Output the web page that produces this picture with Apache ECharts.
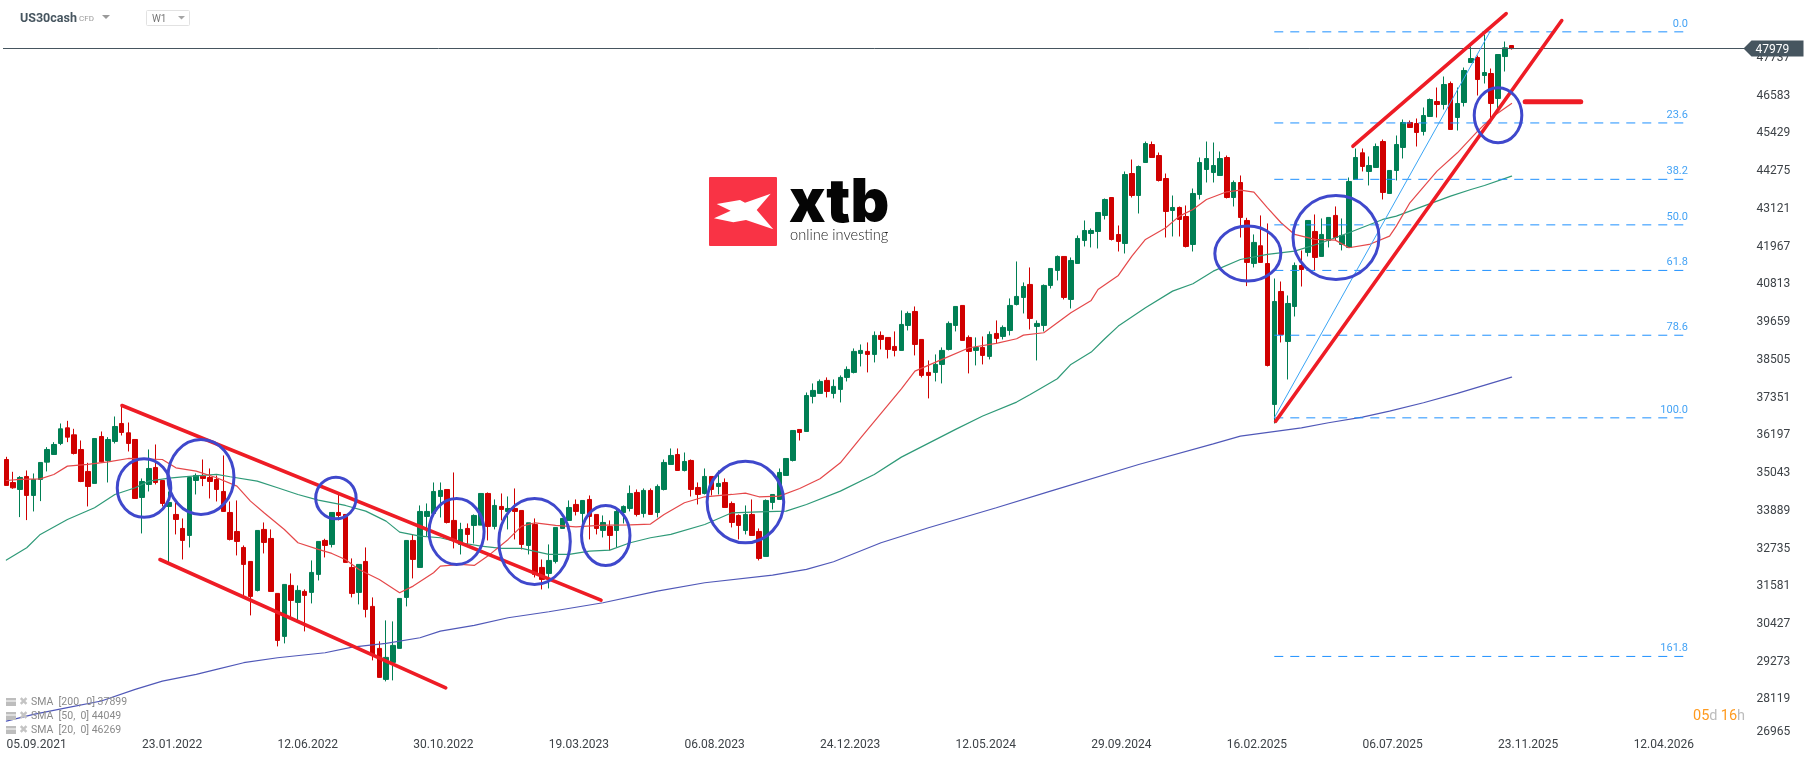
<!DOCTYPE html>
<html>
<head>
<meta charset="utf-8">
<title>US30cash W1</title>
<style>
  html, body { margin: 0; padding: 0; background: #fff; }
  #chart { width: 1815px; height: 761px; }
</style>
<script src="https://cdn.jsdelivr.net/npm/echarts@6/dist/echarts.min.js"></script>
</head>
<body>
<div id="chart"></div>
<script>
// weekly candles, one row per week: open, close, low, high
const candles = [
  [35413,34619,34619,35495],[34710,34547,34517,35036],[34496,34863,33651,34904],[34894,34313,33559,35077],
  [34313,34802,33824,34985],[34802,35322,34140,35322],[35332,35719,35047,35790],[35566,35872,35566,35943],
  [35903,36351,35852,36514],[36381,36096,35943,36595],[36167,35597,35566,36351],[35719,34741,34720,35994],
  [35047,34588,33977,35311],[34680,36055,34680,36055],[36116,35342,35311,36269],[35383,36025,34710,36096],
  [35964,36422,35903,36728],[36514,36239,36147,37064],[36229,35903,35658,36544],[36025,34221,34221,36025],
  [34252,34741,33151,34833],[34649,35138,34435,35719],[35169,34710,34649,35872],[34771,34068,33977,34771],
  [33977,34099,32255,34435],[33732,33579,33121,34089],[33304,32937,32356,33610],[33090,34863,32723,34863],
  [34771,34924,34343,34985],[34904,34833,34598,35413],[34863,34741,34221,35138],[34802,34496,34129,34924],
  [34435,33824,33824,35536],[33793,32968,32937,34129],[33212,32907,32479,34160],[32723,32204,31235,32784],
  [32295,31225,30645,32295],[31409,33243,31378,33243],[33274,32876,32540,33487],[32998,31378,31378,33274],
  [31317,29880,29697,31317],[30003,31592,29789,31592],[31562,31103,30583,31928],[31042,31409,30492,31562],
  [31378,31256,30155,31439],[31348,31959,31011,32326],[31898,32907,31714,32907],[32937,32784,32417,32988],
  [32815,33793,32723,33793],[33793,33701,33549,34343],[33732,32265,32265,33732],[32112,31317,31195,32387],
  [31348,32204,30981,32204],[32295,30828,30583,32723],[30920,29452,29269,31195],[29636,28749,28749,29850],
  [28688,29361,28627,30492],[29208,29727,28657,30461],[29636,31164,29636,31164],[31195,32937,30920,32937],
  [32937,32356,31776,33121],[32112,33824,32112,34007],[33671,33824,33070,34068],[33763,34435,33763,34710],
  [34282,34466,33640,34710],[34496,33487,33457,34496],[33549,32937,32693,35016],[32815,33274,32509,33477],
  [33304,33121,32815,33457],[33396,33701,32846,33732],[33406,34374,33406,34374],[34374,33365,32937,34405],
  [33365,34007,33274,34191],[33977,33885,33549,34374],[33824,33915,33274,34282],[33915,33824,32968,34527],
  [33854,32815,32662,33854],[32784,33477,32509,33477],[33426,31898,31806,33610],[32112,31745,31439,32356],
  [31928,32326,31470,32815],[32295,33335,32234,33335],[33304,33610,33304,33610],[33549,33946,33549,34160],
  [34038,33824,33701,34191],[33763,34160,33426,34160],[34191,33671,32968,34313],[33732,33304,33121,33732],
  [33243,33487,33029,33701],[33365,33090,32632,33549],[33243,33824,32723,33885],[33793,33977,33457,34007],
  [33915,34374,33824,34619],[34405,33732,33671,34496],[33763,34466,33640,34527],[34466,33732,33732,34527],
  [33793,34588,33640,34649],[34496,35322,34466,35413],[35261,35536,35261,35750],[35566,35077,35077,35750],
  [35077,35352,35047,35627],[35383,34496,34282,35413],[34557,34343,34038,34710],[34374,34894,34343,35138],
  [34894,34496,34313,34894],[34588,34680,34343,35077],[34710,33946,33946,34833],[34068,33487,33335,34129],
  [33701,33396,32968,33732],[33243,33732,33121,34007],[33732,33090,33090,34191],[33212,32387,32326,33304],
  [32448,34160,32448,34191],[34099,34343,33885,34343],[34191,35016,34191,35138],[34924,35444,34924,35444],
  [35383,36300,35352,36300],[36331,36239,35994,36331],[36269,37370,36269,37462],[37342,37525,37128,37739],
  [37433,37800,37433,37861],[37831,37494,37311,37923],[37433,37648,37281,37861],[37556,37923,37158,37984],
  [37923,38167,37800,38259],[38076,38718,38045,38809],[38656,38748,38259,38931],[38718,38626,38076,38993],
  [38626,39207,38381,39329],[39207,39084,38779,39329],[39145,38779,38503,39145],[38870,38748,38565,39329],
  [38748,39543,38748,39971],[39512,39879,39359,39940],[39940,38931,38595,40093],[39084,37984,37923,39084],
  [38076,37984,37281,38442],[38076,38320,37800,38626],[38320,38748,37739,38840],[38779,39574,38748,39635],
  [39512,40093,39329,40093],[40124,39054,39054,40124],[39145,38718,38045,39207],[38748,38840,38290,39145],
  [38840,38595,38320,39176],[38565,39237,38473,39329],[39268,39115,38962,39665],[39176,39451,39084,39512],
  [39359,40124,39207,40338],[40154,40399,40124,41469],[40368,40704,39879,40827],[40766,39726,39390,41285],
  [39482,39574,38442,39665],[39512,40735,39329,40766],[40735,41255,40643,41255],[41194,41622,40888,41652],
  [41622,40368,40307,41622],[40307,41499,40032,41591],[41408,42172,41408,42263],[42111,42416,41927,42722],
  [42325,42416,41897,42478],[42386,42967,41866,42967],[42875,43364,42753,43395],[43425,42141,42111,43425],
  [42294,42080,41774,42569],[42019,44128,41713,44220],[44159,43486,43425,44587],[43486,44373,42936,44403],
  [44495,45076,44495,45137],[45045,44648,44648,45137],[44709,43945,43914,44801],[44006,42997,42202,44159],
  [43028,43120,42233,43486],[43120,42753,42233,43150],[42844,41927,41897,43181],[41988,43548,41774,43700],
  [43517,44495,43364,44648],[44281,44617,43884,45137],[44189,44403,43884,45107],[44098,44617,44098,44831],
  [44648,43425,43395,44709],[43425,43884,43150,43945],[43884,42814,42202,44098],[42723,41439,40716,42805],
  [41409,42051,41286,42295],[41949,41439,41439,42876],[41406,38288,38258,42631],[37096,40245,36515,40948],
  [40551,39236,38992,40856],[39022,40184,37860,40428],[40092,41346,39786,41437],[41346,41223,40703,41804],
  [41745,42723,41623,42723],[42387,41592,41195,42906],[41623,42295,41623,42784],[42112,42815,41898,42815],
  [42876,42203,42112,43151],[41989,42265,41806,42784],[41898,43915,41898,44037],[43976,44649,43976,44924],
  [44792,44374,44221,44924],[44221,44404,43793,44680],[44343,44985,44343,45077],[45138,43579,43365,45199],
  [43548,44252,43548,44252],[44252,45046,43946,45321],[44955,45719,44618,45811],[45719,45566,45566,45780],
  [45688,45413,44985,45841],[45444,45933,45321,46178],[45902,46422,45902,46453],[46361,46269,45872,46789],
  [46269,46881,46116,47125],[46911,45505,45505,46972],[45872,46300,45474,46789],[46330,47309,46208,47400],
  [47553,47675,47553,48042],[47706,47033,46544,47767],[47156,47247,46911,48409],[47217,46300,45811,47370],
  [46453,47798,46147,47798],[47736,48001,47278,48195],[48073,47979,47950,48073]
]

const startDate = '2021-09-05'
const weekCount = 257
const lastPrice = 47979
const yTicks = [26965, 28119, 29273, 30427, 31581, 32735, 33889, 35043, 36197, 37351, 38505, 39659, 40813, 41967, 43121, 44275, 45429, 46583, 47737]

const sma20Weeks = [0,2,5,7,9,12,15,18,23,25,28,31,34,36,38,41,43,46,48,50,52,55,58,60,63,64,67,69,71,74,76,78,81,84,88,92,95,97,100,103,107,109,111,114,117,120,123,126,132,134,138,142,146,149,150,153,155,157,160,161,164,166,168,171,173,175,177,180,182,184,186,188,190,193,196,198,201,204,205,207,211,214,217,219,222]
const sma20Values = [34771,34802,34822,34955,35210,35261,35342,35444,35413,35159,35057,34853,34598,34140,33783,33273,32866,32662,32540,32356,32051,31745,31337,31541,31949,32153,32204,32173,32458,32968,33375,33477,33396,33355,33406,33416,33437,33732,34089,34272,34343,34384,34272,34293,34527,34822,35311,36076,37574,38116,38473,38830,38962,39105,39217,39288,39594,39900,40277,40613,41041,41632,42141,42498,42855,43058,43364,43599,43649,43589,43110,42652,42295,42142,42122,41888,41989,42244,42550,43263,44231,44792,45454,45862,46300]

const sma50Weeks = [0,3,5,9,13,16,19,21,24,26,31,33,37,40,43,46,50,53,56,58,61,64,67,70,73,76,80,83,86,89,92,95,98,103,107,111,115,118,123,128,132,140,144,149,151,155,157,160,162,164,168,172,175,178,182,186,190,194,198,203,205,209,213,216,218,222]
const sma50Values = [32336,32713,33121,33579,33936,34343,34547,34751,34843,34884,34955,34884,34751,34547,34343,34170,34007,33834,33528,33192,33070,33019,32866,32764,32693,32693,32509,32509,32611,32642,32866,33019,33121,33426,33783,33813,33834,34038,34445,34955,35485,36333,36741,37168,37403,37882,38320,38697,39105,39492,40052,40562,40786,41173,41530,41684,41786,42040,42346,42754,42855,43161,43467,43671,43793,44078]

const sma200Weeks = [0,4,9,14,19,23,28,31,35,40,47,51,56,61,64,69,74,80,88,96,103,113,118,122,129,136,146,154,167,178,182,191,195,200,204,209,214,222]
const sma200Values = [27414,27618,27822,28026,28382,28637,28841,28994,29198,29350,29503,29676,29789,29962,30166,30339,30573,30757,31032,31388,31643,31877,32051,32285,32866,33324,33936,34445,35260,35892,36127,36381,36536,36709,36892,37147,37433,37932]

const fibLevels = ['0.0', '23.6', '38.2', '50.0', '61.8', '78.6', '100.0', '161.8']
const fibPrices = [48491, 45705, 43981, 42588, 41195, 39213, 36686, 29390]
const fibFromWeek = 187
const fibToWeek = 248.3

// red channels and the short red marker, [week, price] pairs
const trendLines = [
  [[17.05, 37064], [87.7, 31110]],
  [[22.65, 32354], [64.8, 28431]],
  [[198.6, 44993], [221.2, 49051]],
  [[187.2, 36583], [229.4, 48837]]
]
const markerLine = [[224, 46351], [232.2, 46351]]
const fibTrend = [[187, 36686], [218.8, 48491]]

// blue circles: week, price, half width in weeks, half height in price
const circleWeeks = [20.3, 28.7, 48.6, 66.4, 77.9, 88.4, 109, 183.1, 196.1, 220]
const circlePrices = [34541, 34877, 34235, 33210, 32905, 33088, 34113, 41712, 42201, 45938]
const circleHalfWeeks = [3.95, 4.87, 2.98, 4.06, 5.27, 3.57, 5.65, 4.87, 6.34, 3.51]
const circleHalfPrices = [893, 1147, 636, 1009, 1315, 917, 1248, 841, 1284, 841]

const smaLegend = ['SMA  [200,  0] 37899', 'SMA  [50,  0] 44049', 'SMA  [20,  0] 46269']

const pad = (n) => String(n).padStart(2, '0')
const weekLabels = Array.from({ length: weekCount }, (_, i) => {
  const d = new Date(startDate + 'T00:00:00Z')
  d.setUTCDate(d.getUTCDate() + i * 7)
  return `${pad(d.getUTCDate())}.${pad(d.getUTCMonth() + 1)}.${d.getUTCFullYear()}`
})

const zip = (xs, ys) => xs.map((x, i) => [x, ys[i]])

const overlayLine = (data, color, width, z) => ({
  type: 'line',
  xAxisIndex: 1,
  data,
  symbol: 'none',
  silent: true,
  clip: false,
  z,
  lineStyle: { color, width, cap: 'round' }
})

const renderFib = (params, api) => {
  const from = api.coord([fibFromWeek, api.value(0)])
  const to = api.coord([fibToWeek, api.value(0)])
  return {
    type: 'group',
    children: [
      {
        type: 'line',
        shape: { x1: from[0], y1: from[1], x2: to[0], y2: to[1] },
        style: { stroke: '#1e90ff', lineWidth: 1, lineDash: [9, 7] }
      },
      {
        type: 'text',
        x: to[0] - 2,
        y: to[1] - 8,
        style: {
          text: fibLevels[params.dataIndex],
          fill: '#45a3f5',
          font: '11px Roboto',
          align: 'right',
          verticalAlign: 'middle'
        }
      }
    ]
  }
}

const renderCircle = (params, api) => {
  const center = api.coord([api.value(0), api.value(1)])
  const size = api.size([api.value(2), api.value(3)])
  return {
    type: 'ellipse',
    shape: { cx: center[0], cy: center[1], rx: size[0], ry: size[1] },
    style: { fill: 'none', stroke: '#3f48cc', lineWidth: 3 }
  }
}

const renderPriceTag = (params, api) => {
  const p = api.coord([weekCount - 0.5, api.value(0)])
  return {
    type: 'group',
    children: [
      {
        type: 'polygon',
        shape: { points: [[p[0] - 2, p[1]], [p[0] + 6, p[1] - 8], [p[0] + 58, p[1] - 8], [p[0] + 58, p[1] + 8], [p[0] + 6, p[1] + 8]] },
        style: { fill: '#46555f' }
      },
      {
        type: 'text',
        x: p[0] + 10,
        y: p[1] + 1,
        style: { text: String(lastPrice), fill: '#fff', font: '12px Roboto', verticalAlign: 'middle' }
      }
    ]
  }
}

const legendGraphics = smaLegend.flatMap((text, i) => {
  const y = 702 + i * 14
  return [
    { type: 'rect', x: 6, y: y - 4, shape: { width: 10, height: 8 }, style: { fill: '#bdbdbd' }, z: 20 },
    { type: 'line', shape: { x1: 6, y1: y - 1, x2: 16, y2: y - 1 }, style: { stroke: '#fff', lineWidth: 1 }, z: 21 },
    { type: 'text', x: 19, y, style: { text: '✖', fill: '#c4c4c4', font: '11px "DejaVu Sans"', verticalAlign: 'middle' }, z: 20 },
    { type: 'text', x: 31, y, style: { text, fill: '#8a8a8a', font: '10.5px Roboto', verticalAlign: 'middle' }, z: 20 }
  ]
})

const chart = echarts.init(document.getElementById('chart'), null, { renderer: 'canvas' })

chart.setOption({
  animation: false,
  backgroundColor: '#fff',
  textStyle: { fontFamily: 'Roboto' },
  grid: { left: 3, top: 0, width: 1742.5, height: 737 },
  xAxis: [
    {
      type: 'category',
      data: weekLabels,
      boundaryGap: true,
      axisLine: { show: false },
      axisTick: { show: false },
      splitLine: { show: false },
      axisLabel: { interval: 19, margin: 2, align: 'left', color: '#3d4247', fontSize: 12 }
    },
    { type: 'value', min: -0.5, max: weekCount - 0.5, show: false }
  ],
  yAxis: {
    type: 'value',
    position: 'right',
    min: 26926,
    max: 49465,
    axisLine: { show: false },
    axisTick: { show: false },
    splitLine: { show: false },
    axisLabel: {
      customValues: yTicks,
      margin: 11,
      align: 'left',
      color: '#3d4247',
      fontSize: 12,
      padding: [3, 0, 0, 0],
      formatter: (v) => (v === yTicks[0] ? `{low|${v}}` : String(v)),
      rich: { low: { color: '#3d4247', fontSize: 12, padding: [0, 0, 11, 0] } }
    }
  },
  series: [
    {
      type: 'candlestick',
      data: candles.map((c) => [c[0], c[1], c[2], c[3]]),
      barWidth: 5,
      silent: true,
      z: 3,
      itemStyle: { color: '#007f54', color0: '#d00000', borderColor: '#007f54', borderColor0: '#d00000', borderWidth: 1 },
      markLine: {
        silent: true,
        symbol: 'none',
        label: { show: false },
        lineStyle: { color: '#46555f', width: 1, type: 'solid' },
        data: [{ yAxis: lastPrice }]
      }
    },
    overlayLine(zip(sma200Weeks, sma200Values), '#5058b8', 1.2, 4),
    overlayLine(zip(sma50Weeks, sma50Values), '#2f9a78', 1.2, 4),
    overlayLine(zip(sma20Weeks, sma20Values), '#e5484a', 1.2, 4),
    overlayLine(fibTrend, '#3aa5f5', 1, 5),
    {
      type: 'custom',
      xAxisIndex: 1,
      silent: true,
      clip: false,
      z: 5,
      encode: { y: 0 },
      data: fibPrices.map((p) => [p]),
      renderItem: renderFib
    },
    ...trendLines.map((line) => overlayLine(line, '#ee1c25', 3.6, 6)),
    overlayLine(markerLine, '#ee1c25', 5, 6),
    {
      type: 'custom',
      xAxisIndex: 1,
      silent: true,
      clip: false,
      z: 7,
      encode: { x: 0, y: 1 },
      data: circleWeeks.map((w, i) => [w, circlePrices[i], circleHalfWeeks[i], circleHalfPrices[i]]),
      renderItem: renderCircle
    },
    {
      type: 'custom',
      xAxisIndex: 1,
      silent: true,
      clip: false,
      z: 10,
      encode: { y: 0 },
      data: [[lastPrice]],
      renderItem: renderPriceTag
    }
  ],
  graphic: [
    // header
    { type: 'text', x: 20, y: 18.5, style: { text: 'US30cash', fill: '#46555f', font: 'bold 12.5px Roboto', verticalAlign: 'middle' } },
    { type: 'text', x: 79, y: 19, style: { text: 'CFD', fill: '#9a9a9a', font: '8px Roboto', verticalAlign: 'middle' } },
    { type: 'polygon', shape: { points: [[102, 15], [110, 15], [106, 19]] }, style: { fill: '#9a9a9a' } },
    { type: 'rect', shape: { x: 146.5, y: 10.5, width: 43, height: 15, r: 1 }, style: { fill: '#fff', stroke: '#e2e2e2', lineWidth: 1 } },
    { type: 'text', x: 152, y: 19, style: { text: 'W1', fill: '#777', font: '10px Roboto', verticalAlign: 'middle' } },
    { type: 'polygon', shape: { points: [[178, 16], [185, 16], [181.5, 19.5]] }, style: { fill: '#a5a5a5' } },
    // logo
    { type: 'rect', shape: { x: 709, y: 177, width: 68, height: 69, r: 1 }, style: { fill: '#f93345' }, z: 1 },
    {
      type: 'polygon',
      shape: { points: [[716.7, 204], [740, 200], [745, 202.7], [770.7, 193.7], [756.7, 210], [773.3, 229.3], [746, 220], [733.3, 222.3], [714, 218.3], [730.7, 210.7]] },
      style: { fill: '#fff' },
      z: 1
    },
    { type: 'text', x: 789, y: 174, style: { text: 'xtb', fill: '#050505', font: '900 60px Inter' }, z: 1 },
    { type: 'text', x: 790, y: 235, style: { text: 'online investing', fill: '#222', font: '300 14.6px Lato', verticalAlign: 'middle' }, z: 1 },
    // legend and countdown
    ...legendGraphics,
    {
      type: 'text',
      x: 1693,
      y: 716,
      style: {
        text: '{o|05}{g|d} {o|16}{g|h}',
        verticalAlign: 'middle',
        rich: {
          o: { fill: '#ff9a1f', font: '14.5px Roboto' },
          g: { fill: '#bdbdbd', font: '14.5px Roboto' }
        }
      },
      z: 20
    }
  ]
})
</script>
</body>
</html>
